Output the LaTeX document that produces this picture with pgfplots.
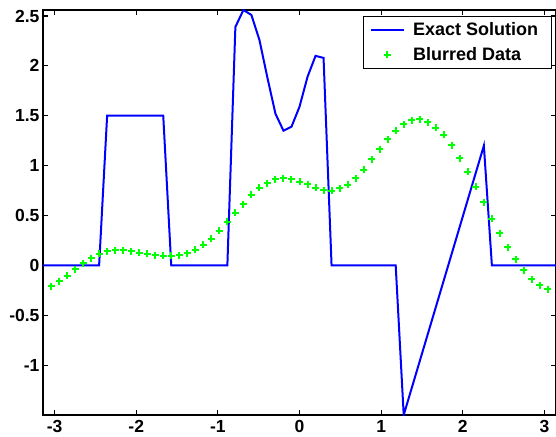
\documentclass[border=0pt]{standalone}
\usepackage{fontspec}
\setmainfont{Liberation Sans}
\usepackage{pgfplots}
\pgfplotsset{compat=1.18}
\definecolor{mblue}{RGB}{0,0,255}
\definecolor{mgreen}{RGB}{0,255,0}
\pgfplotsset{
  lineleg/.style={legend image code/.code={\draw[mblue, line width=2pt] (0pt,0pt) -- (33pt,0pt);}},
  markleg/.style={legend image code/.code={\draw[draw=mgreen, line width=2pt] (13pt,0pt) -- (20pt,0pt) (16.5pt,-3.5pt) -- (16.5pt,3.5pt);}},
}
\begin{document}
\begin{tikzpicture}
\useasboundingbox (-43pt,-21pt) rectangle (513pt,415pt);
\begin{axis}[
  at={(0pt,0pt)}, anchor=south west,
  scale only axis, width=513pt, height=405pt,
  xmin=-3.14159, xmax=3.14159, ymin=-1.5, ymax=2.56,
  xtick={-3,-2,-1,0,1,2,3},
  ytick={-1,-0.5,0,0.5,1,1.5,2,2.5},
  tick align=inside, major tick length=5pt,
  axis line style={line width=1.2pt},
  tick style={line width=1.1pt, black},
  tick label style={font=\fontsize{17.5}{21}\selectfont\bfseries},
  xticklabel style={yshift=-1.5pt},
  /pgf/number format/assume math mode=true,
  legend cell align=left,
  legend style={at={(0.9909,0.985)}, anchor=north east, draw=black, line width=0.5pt,
    font=\fontsize{18}{21}\selectfont\bfseries, inner xsep=6pt, inner ysep=4.5pt,
    row sep=6pt, column sep=6.5pt},
]
\addplot[mblue, line width=2pt, lineleg] coordinates {
(-3.14159,0) (-2.45437,0) (-2.35619,1.5) (-1.66897,1.5) (-1.57080,0) (-0.88357,0)
(-0.78540,2.39) (-0.68722,2.56) (-0.58905,2.51) (-0.49087,2.26) (-0.39270,1.88)
(-0.29452,1.52) (-0.19635,1.35) (-0.09817,1.39) (0,1.59) (0.09817,1.89)
(0.19635,2.10) (0.29452,2.08) (0.39270,0) (1.17810,0) (1.27627,-1.5)
(2.25802,1.20) (2.35619,0) (3.14159,0)
};
\addlegendentry{Exact Solution\hspace*{5pt}}
\addplot[draw=mgreen, only marks, mark=+, mark size=3.5pt, line width=2pt,
  mark options={solid, line width=2pt, draw=mgreen}, markleg]
  table[x expr={-3.14159265+\coordindex*0.09817477}, y index=0] {
-0.244
-0.211
-0.161
-0.104
-0.040
0.020
0.073
0.117
0.141
0.154
0.154
0.144
0.128
0.114
0.100
0.094
0.095
0.100
0.120
0.158
0.208
0.268
0.349
0.439
0.526
0.613
0.707
0.777
0.824
0.861
0.874
0.861
0.840
0.811
0.777
0.754
0.750
0.771
0.807
0.874
0.958
1.062
1.166
1.263
1.350
1.417
1.454
1.464
1.437
1.380
1.307
1.203
1.075
0.938
0.787
0.633
0.469
0.322
0.184
0.060
-0.050
-0.138
-0.201
-0.241
-0.250
};
\addlegendentry{Blurred Data}
\end{axis}
\end{tikzpicture}
\end{document}
